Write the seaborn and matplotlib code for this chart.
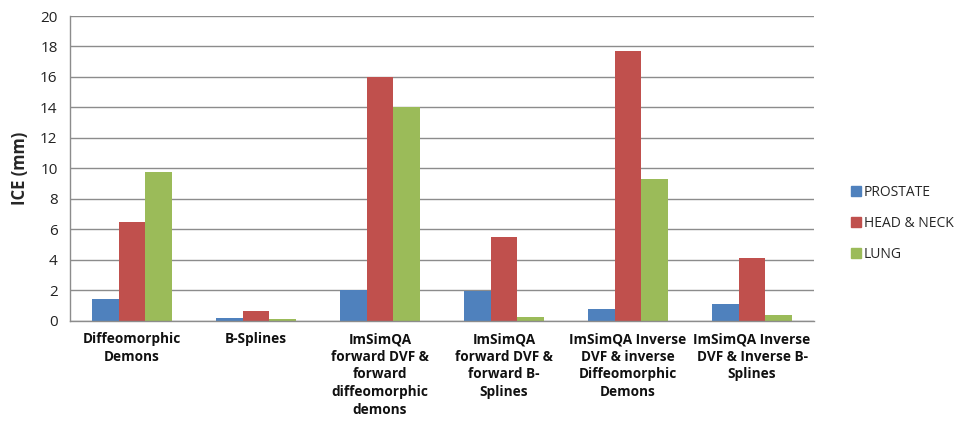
import pandas as pd
import numpy as np
import matplotlib.pyplot as plt
import seaborn as sns

# data
methods = [
    "Diffeomorphic\nDemons",
    "B-Splines",
    "ImSimQA\nforward DVF &\nforward\ndiffeomorphic\ndemons",
    "ImSimQA\nforward DVF &\nforward B-\nSplines",
    "ImSimQA Inverse\nDVF & inverse\nDiffeomorphic\nDemons",
    "ImSimQA Inverse\nDVF & Inverse B-\nSplines",
]
prostate = [1.42, 0.18, 2.03, 1.99, 0.77, 1.11]
head_neck = [6.47, 0.68, 16.0, 5.5, 17.7, 4.15]
lung = [9.75, 0.15, 14.0, 0.28, 9.29, 0.37]
sites = ["PROSTATE", "HEAD & NECK", "LUNG"]
colors = ["#4F81BD", "#C0504D", "#9BBB59"]

df = pd.DataFrame({
    "method": methods * 3,
    "site": [sites[0]] * 6 + [sites[1]] * 6 + [sites[2]] * 6,
    "ice": prostate + head_neck + lung,
})

sns.set_style("white")
plt.rcParams['font.family'] = ['Open Sans', 'DejaVu Sans']

fig = plt.figure(figsize=(9.62, 4.36), dpi=100)
ax = fig.add_axes([0.0728, 0.2638, 0.7734, 0.6995])

sns.barplot(data=df, x="method", y="ice", hue="site", palette=colors,
            width=0.65, saturation=1, linewidth=0, ax=ax, legend=False)

ax.set_ylim(0, 20)
ax.set_xlim(-0.5, 5.5)
ax.set_yticks(np.arange(0, 21, 2))
ax.yaxis.grid(True, color="#8c8c8c", linewidth=1)
ax.set_axisbelow(True)
for s in ["top", "right"]:
    ax.spines[s].set_visible(False)
for s in ["left", "bottom"]:
    ax.spines[s].set_color("#8c8c8c")
    ax.spines[s].set_linewidth(1)

ax.tick_params(axis="y", direction="out", length=5, color="#8c8c8c",
               labelsize=11, pad=4, labelcolor="#222222")
ax.set_xticks(range(6))
ax.set_xticklabels(methods, fontsize=9.8, fontweight="bold",
                   multialignment="center", linespacing=1.33)
ax.tick_params(axis="x", length=0, pad=8, labelcolor="#111111")
ax.set_xticks(np.arange(-0.5, 6, 1), minor=True)
ax.tick_params(axis="x", which="minor", direction="out", length=5,
               color="#8c8c8c")

ax.set_xlabel("")
ax.set_ylabel("ICE (mm)", fontsize=12, fontweight="bold", labelpad=8)

# legend on the right
handles = [plt.Rectangle((0, 0), 1, 1, color=c) for c in colors]
fig.legend(handles, sites, loc="upper left", bbox_to_anchor=(0.872, 0.605),
           frameon=False, fontsize=10, handlelength=0.7, handleheight=0.7,
           handletextpad=0.2, labelspacing=1.15)

fig.savefig("out.png", dpi=100)
